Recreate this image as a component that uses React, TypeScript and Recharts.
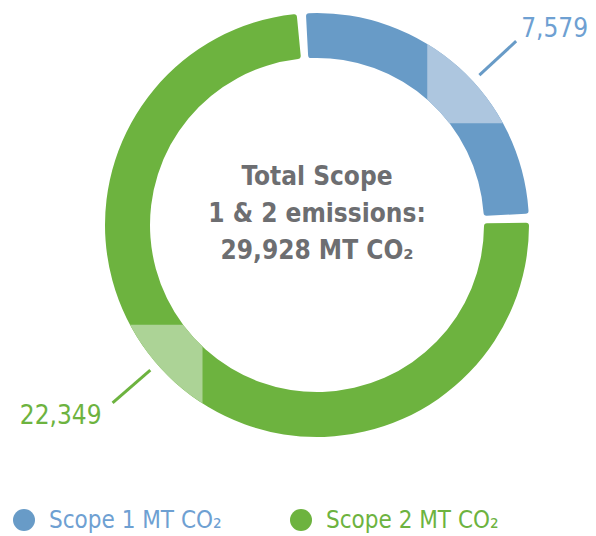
import React from 'react';
import { PieChart, Pie, Cell, Legend, Sector } from 'recharts';

const CATEGORIES = ['Scope 1 MT CO₂', 'Scope 2 MT CO₂'];
const VALUES = [7579, 22349];
const CENTER_TITLE = ['Total Scope', '1 & 2 emissions:'];
const UNIT = 'MT CO₂';

const COLORS = ['#689bc7', '#6db33f'];
const LIGHT = ['#adc6df', '#acd396'];
const TEXT_COLORS = ['#6ea0d2', '#6db33f'];
// lighter part of each slice, a box in units of the outer radius (y grows down)
const BOXES = [
  [0.52, -1.2, 1.2, -0.48],
  [-1.2, 0.47, -0.54, 1.2],
];

const FONT = '"DejaVu Sans Condensed", "DejaVu Sans", sans-serif';

const data = CATEGORIES.map((name, i) => ({ name, value: VALUES[i] }));
const total = VALUES.reduce((a, b) => a + b, 0);
const fmt = (n: number) => n.toLocaleString('en-US');

const renderCenter = (cx: number, cy: number) => (
  <text textAnchor="middle" fill="#6d6e71" fontSize={26} fontWeight="bold" fontFamily={FONT}>
    <tspan x={cx} y={cy - 40}>{CENTER_TITLE[0]}</tspan>
    <tspan x={cx} y={cy - 3}>{CENTER_TITLE[1]}</tspan>
    <tspan x={cx} y={cy + 34}>{`${fmt(total)} ${UNIT}`}</tspan>
  </text>
);

const renderSliceLabel = (props: any) => {
  const { cx, cy, innerRadius, outerRadius, startAngle, endAngle, index, value } = props;
  const [x0, y0, x1, y1] = BOXES[index];
  const R = outerRadius;
  const id = `hl-${index}`;
  // leader points at the inner corner of the light box
  const kx = Math.abs(x0) < Math.abs(x1) ? x0 : x1;
  const ky = Math.abs(y0) < Math.abs(y1) ? y0 : y1;
  const a = Math.atan2(ky, kx);
  const cos = Math.cos(a);
  const sin = Math.sin(a);
  const r1 = R + 9;
  const r2 = R + 59;
  const ex = cx + r2 * cos;
  const ey = cy + r2 * sin;
  const right = cos > 0;
  return (
    <g>
      <defs>
        <clipPath id={id}>
          <rect x={cx + x0 * R} y={cy + y0 * R} width={(x1 - x0) * R} height={(y1 - y0) * R} />
        </clipPath>
      </defs>
      <g clipPath={`url(#${id})`}>
        <Sector
          cx={cx}
          cy={cy}
          innerRadius={innerRadius}
          outerRadius={outerRadius}
          startAngle={startAngle}
          endAngle={endAngle}
          cornerRadius={3}
          fill={LIGHT[index]}
          stroke="none"
        />
      </g>
      <line x1={cx + r1 * cos} y1={cy + r1 * sin} x2={ex} y2={ey} stroke={COLORS[index]} strokeWidth={3} />
      <text
        x={ex + (right ? 5 : -11)}
        y={ey + (sin < 0 ? -13 : 12)}
        textAnchor={right ? 'start' : 'end'}
        dominantBaseline="central"
        fill={TEXT_COLORS[index]}
        fontSize={26}
        fontFamily={FONT}
      >
        {fmt(value)}
      </text>
      {index === 0 && renderCenter(cx, cy)}
    </g>
  );
};

const renderLegend = ({ payload }: any) => (
  <div style={{ display: 'flex', fontFamily: FONT, fontSize: 24, lineHeight: '28px' }}>
    {(payload || []).map((p: any, i: number) => (
      <div key={i} style={{ display: 'flex', alignItems: 'center', width: 277 }}>
        <span
          style={{
            display: 'inline-block',
            width: 22,
            height: 22,
            borderRadius: '50%',
            background: COLORS[i],
            marginRight: 14,
          }}
        />
        <span style={{ color: TEXT_COLORS[i] }}>{p.value}</span>
      </div>
    ))}
  </div>
);

export default function App() {
  return (
    <div style={{ position: 'absolute', left: 0, top: 0 }}>
      <PieChart width={596} height={536} margin={{ top: 0, right: 0, bottom: 0, left: 0 }}>
        <Pie
          data={data}
          dataKey="value"
          nameKey="name"
          cx={317}
          cy={225}
          innerRadius={167}
          outerRadius={212}
          startAngle={93}
          endAngle={-267}
          paddingAngle={2.5}
          cornerRadius={3}
          stroke="none"
          label={renderSliceLabel}
          labelLine={false}
          isAnimationActive={false}
        >
          {data.map((d, i) => (
            <Cell key={d.name} fill={COLORS[i]} />
          ))}
        </Pie>
        <Legend content={renderLegend} wrapperStyle={{ left: 13, top: 506, width: 580 }} />
      </PieChart>
    </div>
  );
}
